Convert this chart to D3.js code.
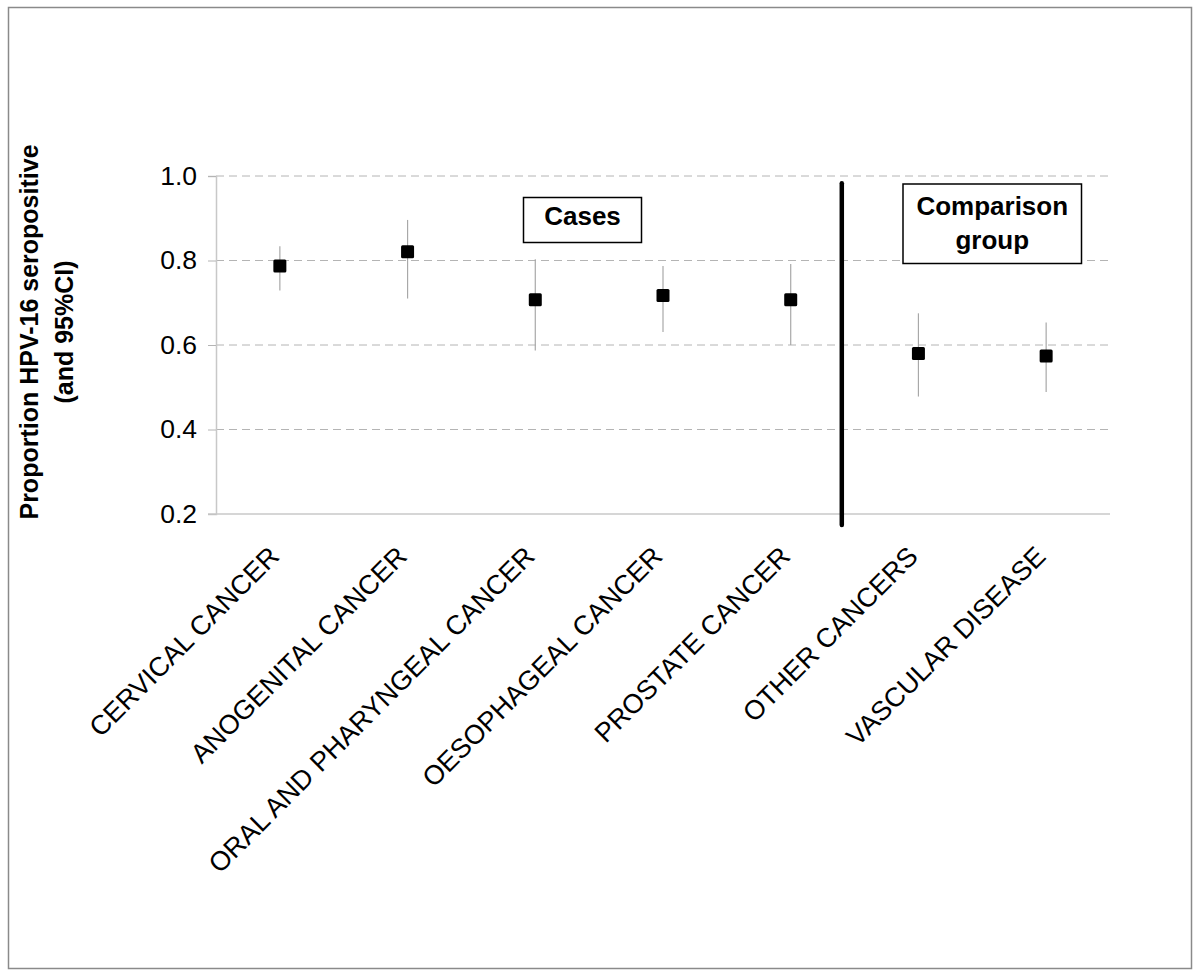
<!DOCTYPE html>
<html>
<head>
<meta charset="utf-8">
<script src="https://cdn.jsdelivr.net/npm/d3@7/dist/d3.min.js"></script>
<style>
  html, body { margin: 0; padding: 0; background: #fff; }
  svg { display: block; }
  text { font-family: "Liberation Sans", Arial, sans-serif; fill: #000; }
</style>
</head>
<body>
<svg id="chart" width="1200" height="977"></svg>
<script>
const categories = [
  "CERVICAL CANCER",
  "ANOGENITAL CANCER",
  "ORAL AND PHARYNGEAL CANCER",
  "OESOPHAGEAL CANCER",
  "PROSTATE CANCER",
  "OTHER CANCERS",
  "VASCULAR DISEASE"
];
const estimates = [0.787, 0.821, 0.707, 0.717, 0.707, 0.580, 0.574];
const lowerCI   = [0.729, 0.710, 0.587, 0.631, 0.600, 0.478, 0.489];
const upperCI   = [0.834, 0.896, 0.803, 0.787, 0.792, 0.675, 0.653];
const yTicks = [0.2, 0.4, 0.6, 0.8, 1.0];
const yTitle = ["Proportion HPV-16 seropositive", "(and 95%CI)"];
const groupLabels = [["Cases"], ["Comparison", "group"]];

const svg = d3.select("#chart");

// outer frame
svg.append("rect")
  .attr("x", 8.5).attr("y", 7.5).attr("width", 1183).attr("height", 961)
  .attr("fill", "#fff").attr("stroke", "#8a8a8a").attr("stroke-width", 1.5);

const plotLeft = 216, plotRight = 1110, plotTop = 176, plotBottom = 514;

const x = d3.scaleBand().domain(categories).range([plotLeft, plotRight]).padding(0);
const y = d3.scaleLinear().domain([0.2, 1.0]).range([plotBottom, plotTop]);

// gridlines
svg.append("g").selectAll("line")
  .data(yTicks.filter(t => t > 0.2))
  .join("line")
  .attr("x1", plotLeft).attr("x2", plotRight)
  .attr("y1", d => y(d)).attr("y2", d => y(d))
  .attr("stroke", "#b4b4b4").attr("stroke-width", 1)
  .attr("stroke-dasharray", "8,5");

// y axis
const yAxis = d3.axisLeft(y).tickValues(yTicks).tickFormat(d3.format(".1f")).tickSize(8).tickPadding(11);
const gy = svg.append("g").attr("transform", `translate(${plotLeft},0)`).call(yAxis);
gy.select(".domain").attr("stroke", "#c8c8c8").attr("stroke-width", 1.5);
gy.selectAll(".tick line").attr("stroke", "#b4b4b4");
gy.selectAll(".tick text")
  .style("font-family", "'Liberation Sans', Arial, sans-serif")
  .style("font-size", "26.5px").attr("fill", "#000");

// x axis line
svg.append("line")
  .attr("x1", plotLeft - 8).attr("x2", plotRight)
  .attr("y1", y(0.2)).attr("y2", y(0.2))
  .attr("stroke", "#c8c8c8").attr("stroke-width", 1.5);

// x labels
const xAxis = d3.axisBottom(x).tickSize(0).tickPadding(0);
const gx = svg.append("g").attr("transform", `translate(0,${plotBottom})`).call(xAxis);
gx.select(".domain").remove();
gx.selectAll(".tick text")
  .style("font-family", "'Liberation Sans', Arial, sans-serif")
  .style("font-size", "27px").attr("fill", "#000")
  .attr("text-anchor", "end")
  .attr("dy", 0)
  .attr("transform", "translate(1,44) rotate(-45)");

// error bars
const cx = i => x(categories[i]) + x.bandwidth() / 2;
svg.append("g").selectAll("line")
  .data(categories.map((c, i) => i))
  .join("line")
  .attr("x1", i => cx(i)).attr("x2", i => cx(i))
  .attr("y1", i => y(upperCI[i])).attr("y2", i => y(lowerCI[i]))
  .attr("stroke", "#a8a8a8").attr("stroke-width", 1.2);

// markers
const ms = 13;
svg.append("g").selectAll("rect")
  .data(categories.map((c, i) => i))
  .join("rect")
  .attr("x", i => cx(i) - ms / 2).attr("y", i => y(estimates[i]) - ms / 2)
  .attr("width", ms).attr("height", ms).attr("rx", 1.5)
  .attr("fill", "#000");

// divider between cases and comparison group
const divX = x(categories[4]) + x.bandwidth() * 0.9;
svg.append("line")
  .attr("x1", divX).attr("x2", divX)
  .attr("y1", y(0.983)).attr("y2", y(0.174))
  .attr("stroke", "#000").attr("stroke-width", 4.5).attr("stroke-linecap", "round");

// annotation boxes
const boxes = [
  { x: 523.5, y: 197.5, w: 118, h: 45, lines: groupLabels[0], base: 225 },
  { x: 903, y: 184, w: 178.5, h: 79.5, lines: groupLabels[1], base: 215 }
];
boxes.forEach(b => {
  svg.append("rect").attr("x", b.x).attr("y", b.y).attr("width", b.w).attr("height", b.h)
    .attr("fill", "#fff").attr("stroke", "#000").attr("stroke-width", 1.5);
  b.lines.forEach((t, k) => {
    svg.append("text").attr("x", b.x + b.w / 2).attr("y", b.base + k * 34)
      .attr("text-anchor", "middle").style("font-size", "26px").style("font-weight", "bold")
      .text(t);
  });
});

// y axis title
const ty = svg.append("g").attr("transform", "translate(0,332) rotate(-90)");
yTitle.forEach((t, k) => {
  ty.append("text").attr("x", 0).attr("y", 38 + k * 35)
    .attr("text-anchor", "middle").style("font-size", "25px").style("font-weight", "bold")
    .text(t);
});
</script>
</body>
</html>
